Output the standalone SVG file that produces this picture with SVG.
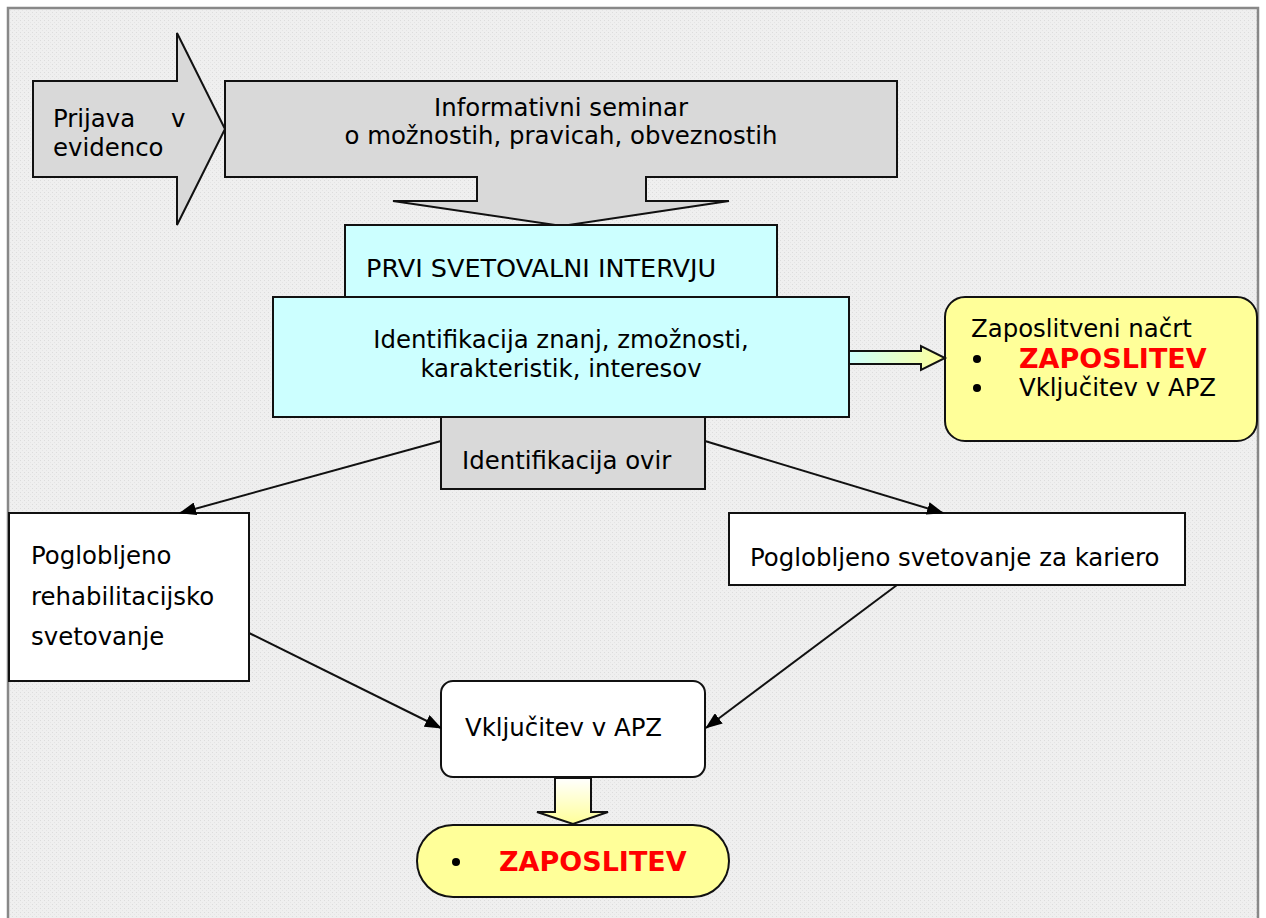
<svg xmlns="http://www.w3.org/2000/svg" width="1266" height="918" viewBox="0 0 1266 918">
<style>
.t{font-family:"DejaVu Sans","Verdana",sans-serif;font-size:24.4px;fill:#000}
.b{font-family:"DejaVu Sans","Verdana",sans-serif;font-size:27px;font-weight:bold;fill:#ff0000}
.s{stroke:#111;stroke-width:2}
.c{stroke:#111;stroke-width:2;fill:none}
</style>
<defs>
<pattern id="dots" width="4" height="4" patternUnits="userSpaceOnUse">
<rect width="4" height="4" fill="#efefef"/>
<rect x="0" y="0" width="1" height="1" fill="#dcdcdc"/>
<rect x="2" y="2" width="1" height="1" fill="#e4e4e4"/>
</pattern>
<linearGradient id="gCY" x1="0" y1="0" x2="1" y2="0">
<stop offset="0" stop-color="#ccffff"/>
<stop offset="1" stop-color="#ffff99"/>
</linearGradient>
<linearGradient id="gWY" x1="0" y1="0" x2="0" y2="1">
<stop offset="0" stop-color="#ffffff"/>
<stop offset="1" stop-color="#ffff99"/>
</linearGradient>
<marker id="ah" markerWidth="17" markerHeight="13" refX="16" refY="6.5" orient="auto" markerUnits="userSpaceOnUse">
<path d="M0,0 L17,6.5 L0,13 Z" fill="#000"/>
</marker>
</defs>
<rect width="1266" height="918" fill="#ffffff"/>
<rect x="8" y="8" width="1250" height="920" fill="url(#dots)" stroke="#888" stroke-width="2.5"/>

<g id="prijava">
<path class="s" d="M33,81 L177,81 L177,33 L225,129 L177,225 L177,177 L33,177 Z" fill="#d9d9d9"/>
<text class="t" x="53" y="127">Prijava</text>
<text class="t" x="171" y="127">v</text>
<text class="t" x="53" y="156">evidenco</text>
</g>

<g id="seminar">
<path class="s" d="M225,81 L897,81 L897,177 L646,177 L646,201 L729,201 L562,226 L393,201 L477,201 L477,177 L225,177 Z" fill="#d9d9d9"/>
<text class="t" x="561" y="116" text-anchor="middle">Informativni seminar</text>
<text class="t" x="561" y="144" text-anchor="middle">o možnostih, pravicah, obveznostih</text>
</g>

<g id="prvi">
<rect class="s" x="345" y="225" width="432" height="72" fill="#ccffff"/>
<text class="t" x="366" y="277" style="font-size:25.5px">PRVI SVETOVALNI INTERVJU</text>
</g>

<g id="identifikacija">
<rect class="s" x="273" y="297" width="576" height="120" fill="#ccffff"/>
<text class="t" x="561" y="348" text-anchor="middle">Identifikacija znanj, zmožnosti,</text>
<text class="t" x="561" y="377" text-anchor="middle">karakteristik, interesov</text>
</g>

<g id="ovire">
<rect class="s" x="441" y="417" width="264" height="72" fill="#d9d9d9"/>
<text class="t" x="462" y="469">Identifikacija ovir</text>
</g>

<g id="nacrt">
<rect class="s" x="945" y="297" width="312" height="144" rx="20" fill="#ffff99"/>
<text class="t" x="971" y="337">Zaposlitveni načrt</text>
<circle cx="977" cy="359" r="4" fill="#000"/>
<text class="b" x="1019" y="368">ZAPOSLITEV</text>
<circle cx="977" cy="388" r="4" fill="#000"/>
<text class="t" x="1019" y="396">Vključitev v APZ</text>
</g>

<g id="rehab">
<rect class="s" x="9" y="513" width="240" height="168" fill="#ffffff"/>
<text class="t" x="31" y="564">Poglobljeno</text>
<text class="t" x="31" y="605">rehabilitacijsko</text>
<text class="t" x="31" y="645">svetovanje</text>
</g>

<g id="kariera">
<rect class="s" x="729" y="513" width="456" height="72" fill="#ffffff"/>
<text class="t" x="750" y="566">Poglobljeno svetovanje za kariero</text>
</g>

<g id="apz">
<rect class="s" x="441" y="681" width="264" height="96" rx="12" fill="#ffffff"/>
<text class="t" x="465" y="736">Vključitev v APZ</text>
</g>

<g id="zaposlitev">
<rect class="s" x="417" y="825" width="312" height="72" rx="36" fill="#ffff99"/>
<circle cx="456" cy="862" r="4" fill="#000"/>
<text class="b" x="499" y="871">ZAPOSLITEV</text>
</g>

<g id="connectors">
<path class="s" d="M849,351 L921,351 L921,346 L945,358 L921,370 L921,364 L849,364 Z" fill="url(#gCY)"/>
<path class="s" d="M555,778 L591,778 L591,812 L608,812 L573,824 L537,812 L555,812 Z" fill="url(#gWY)"/>
<line class="c" x1="441" y1="441" x2="180" y2="513" marker-end="url(#ah)"/>
<line class="c" x1="705" y1="441" x2="943" y2="513" marker-end="url(#ah)"/>
<line class="c" x1="249" y1="633" x2="441" y2="728" marker-end="url(#ah)"/>
<line class="c" x1="897" y1="585" x2="706" y2="728" marker-end="url(#ah)"/>
</g>
</svg>
